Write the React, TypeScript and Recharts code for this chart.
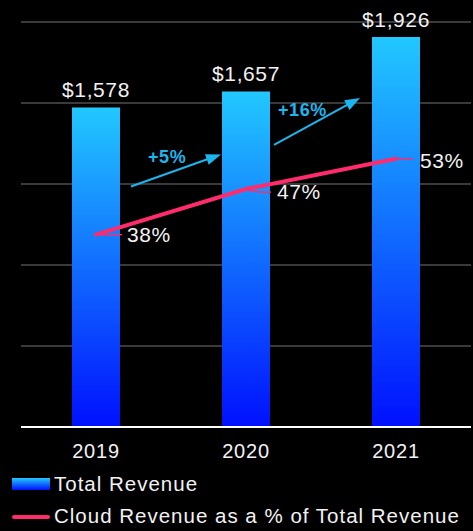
import React from 'react';
import {
  ComposedChart,
  Bar,
  Line,
  XAxis,
  YAxis,
  CartesianGrid,
  LabelList,
  Legend,
} from 'recharts';

const years = ['2019', '2020', '2021'];
const totalRevenue = [1578, 1657, 1926];
const cloudSharePct = [38, 47, 53];
const revenueTicks = [0, 400, 800, 1200, 1600, 2000];
const shareDomain = [0, 80];
const seriesNames = ['Total Revenue', 'Cloud Revenue as a % of Total Revenue'];

const data = years.map((year, i) => ({
  year,
  total: totalRevenue[i],
  cloud: cloudSharePct[i],
}));

const FONT = '"Liberation Sans", Arial, Helvetica, sans-serif';
const WHITE = '#f2f2f2';
const PINK = '#ff2b6c';
const ARROW = '#1cb6ee';
const GRID = '#3a3a3a';
const TOP_BLUE = '#22c8ff';
const BOTTOM_BLUE = '#0010ff';

const W = 473;
const H = 531;

function box(props: any) {
  const vb = props.viewBox || {};
  return {
    x: props.x ?? vb.x,
    y: props.y ?? vb.y,
    width: props.width ?? vb.width ?? 0,
    height: props.height ?? vb.height ?? 0,
  };
}

const BarValueLabel = (props: any) => {
  const { x, y, width } = box(props);
  const v = Number(props.value);
  return (
    <text
      x={x + width / 2}
      y={y - 10}
      textAnchor="middle"
      fill={WHITE}
      fontSize={21}
      fontFamily={FONT}
      letterSpacing={0.6}
    >
      {`$${v.toLocaleString('en-US')}`}
    </text>
  );
};

// layout of growth arrows relative to the bar they point to
const arrowLayout: Record<number, { sx: number; sy: number; ex: number; ey: number; tx: number; ty: number }> = {
  1: { sx: -91, sy: 95, ex: -1, ey: 63, tx: -74, ty: 72 },
  2: { sx: -98, sy: 108, ex: -12, ey: 61, tx: -94, ty: 79 },
};

const GrowthArrow = (props: any) => {
  const idx = props.index;
  if (!idx) return null;
  const L = arrowLayout[idx];
  if (!L) return null;
  const { x, y } = box(props);
  const growth = Math.round((totalRevenue[idx] / totalRevenue[idx - 1] - 1) * 100);
  const sx = x + L.sx;
  const sy = y + L.sy;
  const ex = x + L.ex;
  const ey = y + L.ey;
  const dx = ex - sx;
  const dy = ey - sy;
  const len = Math.sqrt(dx * dx + dy * dy);
  const ux = dx / len;
  const uy = dy / len;
  const px = -uy;
  const py = ux;
  const headLen = 15;
  const headHalf = 5.5;
  const bx = ex - ux * headLen;
  const by = ey - uy * headLen;
  return (
    <g>
      <line x1={sx} y1={sy} x2={bx + ux * 2} y2={by + uy * 2} stroke={ARROW} strokeWidth={2} />
      <polygon
        points={`${ex},${ey} ${bx + px * headHalf},${by + py * headHalf} ${bx - px * headHalf},${by - py * headHalf}`}
        fill={ARROW}
      />
      <text
        x={x + L.tx}
        y={y + L.ty}
        fill={ARROW}
        fontSize={18}
        fontWeight="bold"
        fontFamily={FONT}
        letterSpacing={0.6}
      >
        {`+${growth}%`}
      </text>
    </g>
  );
};

const leaderLayout = [
  { len: 26, bend: 0, tdx: 31, tdy: 7.5 },
  { len: 25, bend: 3, tdx: 31, tdy: 10 },
  { len: 17, bend: 0, tdx: 24, tdy: 9 },
];

const ShareLabel = (props: any) => {
  const { x, y } = box(props);
  const L = leaderLayout[props.index] || leaderLayout[0];
  return (
    <g>
      <path
        d={`M${x},${y} Q${x + L.len * 0.5},${y + L.bend * 1.4} ${x + L.len},${y + L.bend}`}
        stroke={PINK}
        strokeWidth={1.5}
        fill="none"
      />
      <text
        x={x + L.tdx}
        y={y + L.tdy}
        fill={WHITE}
        fontSize={21}
        fontFamily={FONT}
        letterSpacing={0.6}
      >
        {`${props.value}%`}
      </text>
    </g>
  );
};

const YearTick = (props: any) => {
  const { x, y, payload } = props;
  return (
    <text
      x={x}
      y={y + 31}
      textAnchor="middle"
      fill={WHITE}
      fontSize={20}
      fontFamily={FONT}
      letterSpacing={0.8}
    >
      {payload.value}
    </text>
  );
};

const LegendContent = () => (
  <svg width={W} height={69} style={{ display: 'block' }}>
    <defs>
      <linearGradient id="legendGrad" x1="0" y1="0" x2="0" y2="1">
        <stop offset="0%" stopColor={TOP_BLUE} />
        <stop offset="100%" stopColor={BOTTOM_BLUE} />
      </linearGradient>
    </defs>
    <rect x={12} y={16} width={38} height={12} fill="url(#legendGrad)" />
    <text x={54} y={29} fill={WHITE} fontSize={20.5} fontFamily={FONT} letterSpacing={1}>
      {seriesNames[0]}
    </text>
    <line x1={14} y1={55} x2={48} y2={55} stroke={PINK} strokeWidth={4} strokeLinecap="round" />
    <text x={54} y={61} fill={WHITE} fontSize={20.5} fontFamily={FONT} letterSpacing={1}>
      {seriesNames[1]}
    </text>
  </svg>
);

export default function App() {
  return (
    <div
      style={{
        position: 'absolute',
        left: 0,
        top: 0,
        width: W,
        height: H,
        background: '#000',
        overflow: 'hidden',
      }}
    >
      <ComposedChart
        width={W}
        height={H}
        data={data}
        margin={{ top: 22, right: 2, left: 21, bottom: 0 }}
      >
        <defs>
          <linearGradient id="barGrad" x1="0" y1="0" x2="0" y2="1">
            <stop offset="0%" stopColor={TOP_BLUE} />
            <stop offset="100%" stopColor={BOTTOM_BLUE} />
          </linearGradient>
        </defs>
        <CartesianGrid vertical={false} stroke={GRID} strokeWidth={2} yAxisId="left" />
        <XAxis
          dataKey="year"
          height={35}
          axisLine={{ stroke: '#ffffff', strokeWidth: 2 }}
          tickLine={false}
          tickSize={0}
          tickMargin={0}
          tick={<YearTick />}
          interval={0}
        />
        <YAxis yAxisId="left" hide domain={[0, 2000]} ticks={revenueTicks} />
        <YAxis yAxisId="right" orientation="right" hide domain={shareDomain} />
        <Legend
          verticalAlign="bottom"
          align="left"
          content={<LegendContent />}
          wrapperStyle={{ left: 0, width: W, margin: 0, padding: 0 }}
        />
        <Bar
          yAxisId="left"
          dataKey="total"
          name={seriesNames[0]}
          fill="url(#barGrad)"
          barSize={48}
          isAnimationActive={false}
        >
          <LabelList dataKey="total" content={<BarValueLabel />} />
          <LabelList dataKey="total" content={<GrowthArrow />} />
        </Bar>
        <Line
          yAxisId="right"
          dataKey="cloud"
          name={seriesNames[1]}
          type="linear"
          stroke={PINK}
          strokeWidth={4}
          strokeLinecap="round"
          dot={false}
          activeDot={false}
          isAnimationActive={false}
        >
          <LabelList dataKey="cloud" content={<ShareLabel />} />
        </Line>
      </ComposedChart>
    </div>
  );
}
